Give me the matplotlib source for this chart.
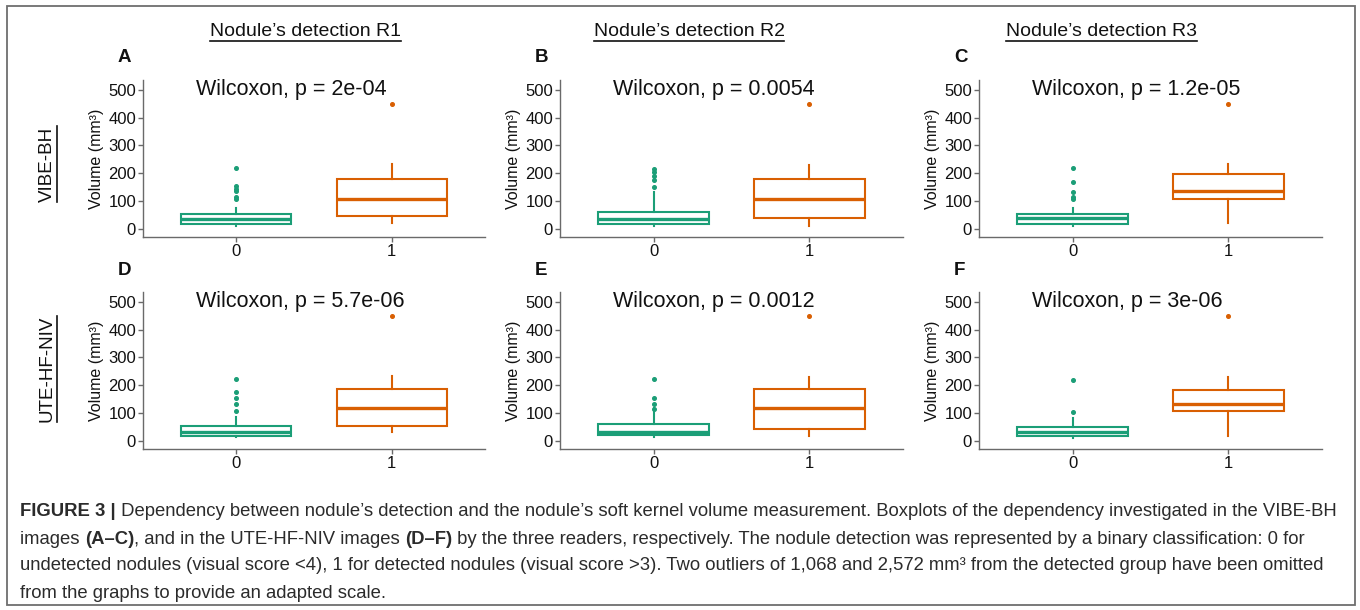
import matplotlib
matplotlib.use('Agg')
import matplotlib.pyplot as plt
from matplotlib.lines import Line2D
from matplotlib.patches import Rectangle

plt.rcParams['font.family'] = ['Liberation Sans', 'DejaVu Sans']

W, H = 1360, 610

# --- data (volume, mm3) ---
panel_letters = ['A', 'B', 'C', 'D', 'E', 'F']
p_labels = ['2e-04', '0.0054', '1.2e-05', '5.7e-06', '0.0012', '3e-06']
readers = ['Nodule\u2019s detection R1', 'Nodule\u2019s detection R2', 'Nodule\u2019s detection R3']
sequences = ['VIBE-BH', 'UTE-HF-NIV']
groups = ['0', '1']

# group 0 : undetected nodules
undet_low = [12, 10, 12, 13, 15, 11]
undet_q1 = [19, 19, 19, 19, 23, 18]
undet_med = [34, 35, 38, 31, 33, 32]
undet_q3 = [52, 62, 52, 55, 61, 50]
undet_high = [74, 131, 76, 85, 118, 81]
undet_fliers = [
    [219, 154, 145, 135, 115, 107],
    [217, 204, 189, 174, 150],
    [220, 170, 131, 114, 108],
    [221, 174, 156, 132, 107],
    [221, 155, 132, 116],
    [218, 105],
]

# group 1 : detected nodules
det_low = [20, 11, 20, 33, 18, 18]
det_q1 = [45, 38, 107, 55, 43, 106]
det_med = [107, 106, 137, 119, 117, 132]
det_q3 = [181, 179, 197, 188, 186, 183]
det_high = [232, 228, 232, 232, 231, 230]
det_fliers = [[449], [447], [447], [450], [450], [448]]

green = '#1B9E77'
orange = '#D95F02'
axis_grey = '#6a6a6a'

fig = plt.figure(figsize=(W / 100, H / 100), dpi=100)


def px_axes(l, t, r, b):
    return fig.add_axes([l / W, 1 - b / H, (r - l) / W, (b - t) / H])


def px_text(x, y, s, **kw):
    return fig.text(x / W, 1 - y / H, s, **kw)


# axes boxes in pixels (left, top, right, bottom)
lefts = [143, 560, 979]
rights = [485, 903, 1322]
tops = [80, 292]
bottoms = [237, 449]

for i in range(6):
    row, col = divmod(i, 3)
    ax = px_axes(lefts[col], tops[row], rights[col], bottoms[row])
    for pos, color, lo, q1, med, q3, hi, fl in [
        (0, green, undet_low, undet_q1, undet_med, undet_q3, undet_high, undet_fliers),
        (1, orange, det_low, det_q1, det_med, det_q3, det_high, det_fliers),
    ]:
        stats = [dict(whislo=lo[i], q1=q1[i], med=med[i], q3=q3[i], whishi=hi[i], fliers=fl[i])]
        ax.bxp(stats, positions=[pos], widths=0.71, patch_artist=True, showcaps=False,
               boxprops=dict(facecolor='white', edgecolor=color, linewidth=1.5),
               whiskerprops=dict(color=color, linewidth=1.5),
               medianprops=dict(color=color, linewidth=2.4),
               flierprops=dict(marker='o', markersize=2.6, markerfacecolor=color,
                               markeredgecolor=color))
    ax.set_xlim(-0.6, 1.6)
    ax.set_ylim(-29, 535)
    ax.set_xticks([0, 1])
    ax.set_xticklabels(groups)
    ax.set_yticks([0, 100, 200, 300, 400, 500])
    for side in ['top', 'right']:
        ax.spines[side].set_visible(False)
    for side in ['left', 'bottom']:
        ax.spines[side].set_color(axis_grey)
        ax.spines[side].set_linewidth(1.0)
    ax.tick_params(colors=axis_grey, labelcolor='#111111', labelsize=12, length=3.5,
                   width=1.0, pad=1.5)
    ax.set_ylabel('Volume (mm\u00b3)', fontsize=11.5, color='#111111', labelpad=3)
    ax.text(-0.26, 500, 'Wilcoxon, p = ' + p_labels[i], fontsize=15.5, color='#111111',
            ha='left', va='center')
    px_text(lefts[col] - 25, 57 + row * 213, panel_letters[i], fontsize=13.5,
            fontweight='bold', ha='left', va='center', color='#111111')

title_x = [305, 689, 1101]
titles = [px_text(x, 31, s, fontsize=14, ha='center', va='center', color='#111111')
          for x, s in zip(title_x, readers)]
row_y = [164, 369]
row_labels = [px_text(47, y, s, fontsize=13.5, rotation=90, ha='center', va='center',
                      color='#111111') for y, s in zip(row_y, sequences)]

# figure frame
fig.patches.append(Rectangle((7 / W, 1 - 605 / H), 1348 / W, 599 / H, transform=fig.transFigure,
                             fill=False, edgecolor='#6e6e6e', linewidth=1.3))

# caption, drawn segment by segment so bold pieces sit inline
renderer = fig.canvas.get_renderer()
cap_color = '#2b2b2b'
cap_size = 13.3
caption = [
    [('FIGURE 3 |', 'bold'), (' Dependency between nodule\u2019s detection and the nodule\u2019s soft kernel '
     'volume measurement. Boxplots of the dependency investigated in the VIBE-BH', 'normal')],
    [('images ', 'normal'), ('(A\u2013C)', 'bold'), (', and in the UTE-HF-NIV images ', 'normal'),
     ('(D\u2013F)', 'bold'), (' by the three readers, respectively. The nodule detection was '
     'represented by a binary classification: 0 for', 'normal')],
    [('undetected nodules (visual score <4), 1 for detected nodules (visual score >3). Two outliers '
      'of 1,068 and 2,572 mm\u00b3 from the detected group have been omitted', 'normal')],
    [('from the graphs to provide an adapted scale.', 'normal')],
]
cap_y = [512, 539, 566, 593]
for y, segs in zip(cap_y, caption):
    x = 20
    for s, wt in segs:
        t = px_text(x, y, s, fontsize=cap_size, fontweight=wt, color=cap_color,
                    ha='left', va='center')
        x += t.get_window_extent(renderer).width

# underlines under titles and row labels
for t in titles:
    bb = t.get_window_extent(renderer)
    fig.lines.append(Line2D([bb.x0 / W, bb.x1 / W], [(bb.y0 - 1.5) / H] * 2,
                            transform=fig.transFigure, color='#111111', linewidth=1.2))
for t in row_labels:
    bb = t.get_window_extent(renderer)
    fig.lines.append(Line2D([(bb.x1 + 1.5) / W] * 2, [bb.y0 / H, bb.y1 / H],
                            transform=fig.transFigure, color='#111111', linewidth=1.2))

fig.savefig('out.png', dpi=100)
